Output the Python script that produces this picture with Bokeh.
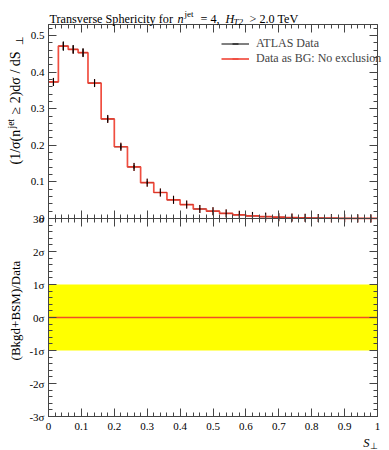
from bokeh.plotting import figure
from bokeh.models import (Label, Legend, LegendItem, LinearAxis, FixedTicker,
                          ColumnDataSource, Range1d, BoxAnnotation)
from bokeh.embed import file_html
from bokeh.resources import INLINE

# ---------------- data ----------------
bin_edges = [0.00, 0.03, 0.06, 0.09, 0.12, 0.16, 0.20, 0.24, 0.28, 0.32, 0.36,
             0.40, 0.44, 0.48, 0.52, 0.56, 0.60, 0.64, 0.68, 0.72, 0.76, 0.80,
             0.84, 0.88, 0.92, 0.96, 1.00]
data_vals = [0.373, 0.471, 0.462, 0.453, 0.370, 0.272, 0.196, 0.141, 0.098,
             0.071, 0.051, 0.038, 0.026, 0.020, 0.014, 0.010, 0.007, 0.005,
             0.0035, 0.0025, 0.0018, 0.0012, 0.0008, 0.0005, 0.0003, 0.0002]
data_errs = [0.011, 0.013, 0.012, 0.012, 0.009, 0.007, 0.007, 0.005, 0.004,
             0.003, 0.003, 0.002, 0.002, 0.0015, 0.001, 0.001, 0.001, 0.001,
             0.0008, 0.0006, 0.0005, 0.0004, 0.0003, 0.0002, 0.0002, 0.0001]
bg_vals = [0.373, 0.471, 0.462, 0.453, 0.370, 0.272, 0.196, 0.141, 0.098,
           0.071, 0.051, 0.038, 0.026, 0.020, 0.014, 0.010, 0.007, 0.005,
           0.0035, 0.0025, 0.0018, 0.0012, 0.0008, 0.0005, 0.0003, 0.0002]
ratio_sigma = [0.0] * 26

x_ticks = [0.0, 0.1, 0.2, 0.3, 0.4, 0.5, 0.6, 0.7, 0.8, 0.9, 1.0]
x_tick_labels = ["0", "0.1", "0.2", "0.3", "0.4", "0.5", "0.6", "0.7", "0.8", "0.9", "1"]
x_minor = [i / 50 for i in range(51)]
y_ticks = [0.0, 0.1, 0.2, 0.3, 0.4, 0.5]
y_tick_labels = ["0", "0.1", "0.2", "0.3", "0.4", "0.5"]
y_minor = [i / 50 for i in range(27)]
r_ticks = [-3, -2, -1, 0, 1, 2, 3]
r_tick_labels = ["-3σ", "-2σ", "-1σ", "0σ", "1σ", "2σ", "3σ"]
r_minor = [-3 + i * 0.2 for i in range(31)]

FONT = "Liberation Serif"
AXC = "#444444"
RED = "#ee3b2b"

# ---------------- page geometry (pixels) ----------------
W, H = 389, 450
FX0, FX1 = 48, 377          # panel left / right
TOP_Y0, MID_Y, BOT_Y1 = 24, 218, 416
YMAX = 0.53
xpp = 1.0 / (FX1 - FX0)
ypp = YMAX / (MID_Y - TOP_Y0)
rpp = 6.0 / (BOT_Y1 - MID_Y)
x_rng = Range1d(-FX0 * xpp, 1 + (W - FX1) * xpp)
y_rng = Range1d(-(H - MID_Y) * ypp, YMAX + TOP_Y0 * ypp)
r_rng = Range1d(-3 - (H - BOT_Y1) * rpp, 3 + MID_Y * rpp)

lo = bin_edges[:-1]
hi = bin_edges[1:]
mid = [(a + b) / 2 for a, b in zip(lo, hi)]
src = ColumnDataSource(dict(lo=lo, hi=hi, mid=mid, y=data_vals,
                            ylo=[v - e for v, e in zip(data_vals, data_errs)],
                            yhi=[v + e for v, e in zip(data_vals, data_errs)]))
bsrc = ColumnDataSource(dict(mid=mid, y=bg_vals))

p = figure(width=W, height=H, x_range=x_rng, y_range=y_rng,
           output_backend="svg", toolbar_location=None,
           x_axis_location=None, y_axis_location=None,
           min_border=0, min_border_left=0, min_border_right=0,
           min_border_top=0, min_border_bottom=0)
p.extra_y_ranges = {"ratio": r_rng}
p.outline_line_color = None
p.grid.grid_line_color = None


def base_axis(ax, loc, bounds):
    ax.fixed_location = loc
    ax.bounds = bounds
    ax.major_tick_out = 0
    ax.minor_tick_out = 0
    ax.axis_line_color = AXC
    ax.major_tick_line_color = AXC
    ax.minor_tick_line_color = AXC


def labelled_axis(side, loc, bounds, ticks, minor, labels, standoff, rname="default"):
    ax = LinearAxis(ticker=FixedTicker(ticks=ticks, minor_ticks=minor),
                    y_range_name=rname)
    base_axis(ax, loc, bounds)
    ax.major_tick_in = 8
    ax.minor_tick_in = 4
    ax.major_label_text_font = FONT
    ax.major_label_text_font_size = "11px"
    ax.major_label_text_color = "black"
    ax.major_label_standoff = standoff
    ax.major_label_overrides = {t: l for t, l in zip(ticks, labels)}
    p.add_layout(ax, side)


def tick_only_axis(side, loc, bounds, ticks, minor, rname="default"):
    a1 = LinearAxis(ticker=FixedTicker(ticks=[], minor_ticks=minor), y_range_name=rname)
    base_axis(a1, loc, bounds)
    a1.minor_tick_in = 4
    a2 = LinearAxis(ticker=FixedTicker(ticks=[], minor_ticks=ticks), y_range_name=rname)
    base_axis(a2, loc, bounds)
    a2.minor_tick_in = 8
    a2.axis_line_color = None
    p.add_layout(a1, side)
    p.add_layout(a2, side)


# top panel axes
labelled_axis("left", 0, (0, YMAX), y_ticks, y_minor, y_tick_labels, 4)
tick_only_axis("right", 1, (0, YMAX), y_ticks, y_minor)
tick_only_axis("below", 0, (0, 1), x_ticks, x_minor)
tick_only_axis("above", YMAX, (0, 1), x_ticks, x_minor)
# ratio panel axes
labelled_axis("left", 0, (-3, 3), r_ticks, r_minor, r_tick_labels, 4, "ratio")
tick_only_axis("right", 1, (-3, 3), r_ticks, r_minor, "ratio")
labelled_axis("below", -3, (0, 1), x_ticks, x_minor, x_tick_labels, 6, "ratio")
tick_only_axis("above", 3, (0, 1), x_ticks, x_minor, "ratio")

# ---------------- top panel marks ----------------
hbar = p.segment(x0="lo", x1="hi", y0="y", y1="y", source=src,
                 line_color="black", line_width=1)
step = p.step(x=bin_edges, y=bg_vals + [bg_vals[-1]], mode="after",
              line_color=RED, line_width=1.7, line_alpha=0.9)
rtick = p.scatter(x="mid", y="y", source=bsrc, marker="dash", angle=1.5708,
                  size=8, line_color=RED, line_width=1.2, line_alpha=0.9)
p.segment(x0="mid", x1="mid", y0="ylo", y1="yhi", source=src,
          line_color="black", line_width=1)
ktick = p.scatter(x="mid", y="y", source=src, marker="dash", angle=1.5708,
                  size=8, line_color="black", line_width=1)

legend = Legend(items=[LegendItem(label="ATLAS Data", renderers=[hbar, ktick]),
                       LegendItem(label="Data as BG: No exclusion", renderers=[step, rtick])],
                location=(221, H - 36 - 30), border_line_color=None,
                background_fill_alpha=0, padding=0, margin=0, spacing=0,
                glyph_width=28, glyph_height=15, label_height=15,
                label_standoff=7, label_text_font=FONT,
                label_text_font_size="12px")
p.add_layout(legend)

# ---------------- ratio panel marks ----------------
p.add_layout(BoxAnnotation(left=0, right=1, bottom=-1, top=1, y_range_name="ratio",
                           fill_color="#ffff00", fill_alpha=1.0,
                           line_color=None, level="underlay"))
p.step(x=bin_edges, y=ratio_sigma + [ratio_sigma[-1]], mode="after",
       y_range_name="ratio", line_color=RED, line_width=1.5, line_alpha=0.9)


# ---------------- texts ----------------
def lab(x, y, text, size="12.2px", style_="normal", align="left",
        angle=0.0, baseline="alphabetic"):
    p.add_layout(Label(x=x, y=y, x_units="screen", y_units="screen", text=text,
                       text_font=FONT, text_font_size=size,
                       text_font_style=style_, text_align=align,
                       text_baseline=baseline, angle=angle, text_color="black"))


TY = H - 18
lab(49, TY, "Transverse Sphericity for")
lab(177, TY, "n", style_="italic")
lab(184, TY + 5, "jet", size="9px")
lab(200, TY, "= 4,")
lab(225, TY, "H", style_="italic")
lab(233, TY - 3, "T2", size="9px", style_="italic")
lab(249, TY, "> 2.0 TeV")

# rotated y label of the top panel, built from pieces (reads bottom to top)
ROT = 1.5708
YL = H - 164
lab(15, YL, "(1/σ(n", size="14px", angle=ROT, baseline="middle")
lab(11, YL + 36, "jet", size="9.5px", angle=ROT, baseline="middle")
lab(15, YL + 50, "≥ 2)dσ / dS", size="14px", angle=ROT, baseline="middle")
lab(19, YL + 119, "⊥", size="10px", angle=ROT, baseline="middle")

lab(15, H - 310, "(Bkgd+BSM)/Data", size="13px", align="center",
    angle=ROT, baseline="middle")

lab(369, 8, "S", size="12.5px", style_="italic", align="right")
lab(369, 5, "⊥", size="9px", align="left")

open("out.html", "w").write(file_html(p, INLINE))
